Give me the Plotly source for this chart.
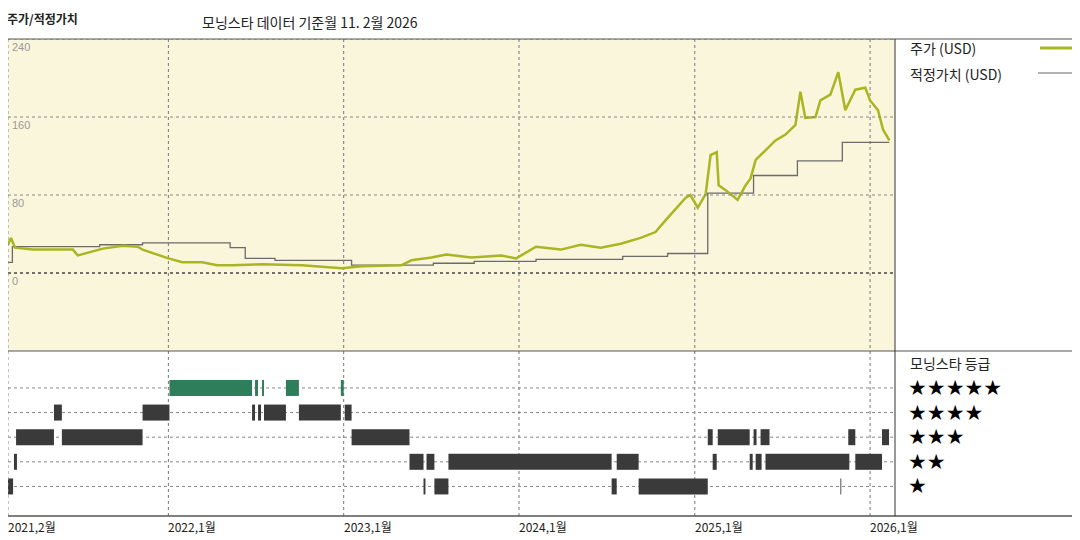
import plotly.graph_objects as go
from datetime import datetime, timedelta

def d(y):
    yr = int(y // 1)
    start = datetime(yr, 1, 1)
    return start + timedelta(days=(y - yr) * 365.25)

# Price (decimal year, USD)
price_t = [2021.085,2021.102,2021.125,2021.227,2021.34,2021.455,2021.483,2021.625,2021.74,2021.824,2021.852,
           2022.0,2022.08,2022.193,2022.278,2022.364,2022.534,2022.761,2022.989,2023.102,2023.33,2023.386,
           2023.5,2023.585,2023.727,2023.898,2023.983,2024.097,2024.239,2024.352,2024.466,2024.58,2024.693,
           2024.778,2024.835,2024.892,2024.949,2024.977,2025.017,2025.062,2025.09,2025.125,2025.136,2025.176,
           2025.244,2025.29,2025.318,2025.347,2025.403,2025.46,2025.517,2025.574,2025.602,2025.63,2025.688,
           2025.716,2025.773,2025.818,2025.858,2025.915,2025.972,2026.0,2026.045,2026.074,2026.11]
price_v = [29,36,26,24,24,24,18,25,28,27,24,
           15,11,11,8,8,9,8,5,7,8,13,
           16,19,16,18,15,27,24,29,26,30,36,
           42,54,65,77,80,67,81,121,124,90,85,
           75,90,97,116,126,136,142,152,186,159,160,
           177,183,206,167,188,190,177,167,147,136]

# Fair value steps (decimal year, USD)
fair_t = [2021.085,2021.11,2021.608,2021.852,2022.352,2022.438,2022.608,2023.045,2023.511,2023.744,
          2024.097,2024.591,2024.847,2025.074,2025.335,2025.585,2025.841,2026.11]
fair_v = [11,27,29,31,26,15,13,8,10,12,14,17,20,82,100,115,134,134]

# Star rating periods (start, end) in decimal years
rating5 = [(2022.006,2022.477),(2022.494,2022.511),(2022.534,2022.545),(2022.670,2022.744),(2022.983,2023.0)]
rating4 = [(2021.347,2021.392),(2021.852,2022.006),(2022.477,2022.494),(2022.511,2022.528),(2022.545,2022.670),
           (2022.744,2022.983),(2023.006,2023.045)]
rating3 = [(2021.131,2021.347),(2021.392,2021.852),(2023.045,2023.375),(2025.074,2025.102),(2025.131,2025.313),
           (2025.335,2025.352),(2025.375,2025.426),(2025.875,2025.915),(2026.068,2026.108)]
rating2 = [(2021.119,2021.136),(2023.375,2023.455),(2023.472,2023.517),(2023.597,2024.528),(2024.557,2024.682),
           (2025.102,2025.125),(2025.313,2025.330),(2025.347,2025.381),(2025.403,2025.881),(2025.915,2026.068)]
rating1 = [(2021.074,2021.114),(2023.455,2023.466),(2023.517,2023.597),(2024.528,2024.557),(2024.682,2025.074),
           (2025.830,2025.835)]

ticks = [(2021.085,"2021,2월"),(2022.0,"2022,1월"),(2023.0,"2023,1월"),(2024.0,"2024,1월"),(2025.0,"2025,1월"),(2026.0,"2026,1월")]
yticks = [240,160,80,0]

fig = go.Figure()
fig.add_trace(go.Scatter(x=[d(t) for t in fair_t], y=fair_v, mode="lines", line=dict(color="#6b6b6b", width=1.3, shape="hv"), yaxis="y", hoverinfo="skip"))
fig.add_trace(go.Scatter(x=[d(t) for t in price_t], y=price_v, mode="lines", line=dict(color="#a9b521", width=2.5), yaxis="y"))

for lvl, segs, col in [(5,rating5,"#2e7d5b"),(4,rating4,"#3a3a3a"),(3,rating3,"#3a3a3a"),(2,rating2,"#3a3a3a"),(1,rating1,"#3a3a3a")]:
    xs, ys = [], []
    for a, b in segs:
        xs += [d(a), d(b), None]; ys += [lvl, lvl, None]
    fig.add_trace(go.Scatter(x=xs, y=ys, mode="lines", line=dict(color=col, width=16), yaxis="y2", hoverinfo="skip"))

# geometry: page has 8px body margin, so work in page px minus offset
O = 8
W, H = 1080 - O, 540 - O
PL, PR, PT, PB = 5, 895, 39, 516   # plot box in page px
L = max(0, PL - O); R = W - (PR - O); T = PT - O; B = H - (PB - O)
pw = W - L - R
ph = H - T - B
split = 165 / ph
def px(x): return (x - O - L) / pw
def py(y): return (H - B - (y - O)) / ph
xr = [d(2021.085), d(2026.142)]

shapes = [dict(type="rect", xref="paper", yref="paper", x0=0, x1=1, y0=split, y1=1, fillcolor="#faf6dc", line=dict(width=0), layer="below")]
for t, _ in ticks[1:]:
    shapes.append(dict(type="line", xref="x", yref="paper", x0=d(t), x1=d(t), y0=0, y1=1, line=dict(color="#777", width=1, dash="dot"), layer="below"))
for v in [240,160,80]:
    shapes.append(dict(type="line", xref="paper", yref="y", x0=0, x1=1, y0=v, y1=v, line=dict(color="#888", width=1, dash="dot")))
shapes.append(dict(type="line", xref="paper", yref="y", x0=0, x1=1, y0=0, y1=0, line=dict(color="#444", width=1.5, dash="dot")))
for v in [1,2,3,4,5]:
    shapes.append(dict(type="line", xref="paper", yref="y2", x0=0, x1=1, y0=v, y1=v, line=dict(color="#888", width=1, dash="dot"), layer="below"))
shapes.append(dict(type="line", xref="paper", yref="paper", x0=0, x1=0, y0=0, y1=1, line=dict(color="#888", width=1, dash="dot")))
xend = px(1080)
shapes += [
    dict(type="line", xref="paper", yref="paper", x0=0, x1=xend, y0=1, y1=1, line=dict(color="#555", width=1)),
    dict(type="line", xref="paper", yref="paper", x0=0, x1=xend, y0=split, y1=split, line=dict(color="#555", width=1)),
    dict(type="line", xref="paper", yref="paper", x0=0, x1=xend, y0=0, y1=0, line=dict(color="#555", width=1.5)),
    dict(type="line", xref="paper", yref="paper", x0=1, x1=1, y0=0, y1=1, line=dict(color="#333", width=1)),
    dict(type="line", xref="paper", yref="paper", x0=px(1040), x1=px(1072), y0=py(48), y1=py(48), line=dict(color="#a9b521", width=3)),
    dict(type="line", xref="paper", yref="paper", x0=px(1038), x1=px(1072), y0=py(73), y1=py(73), line=dict(color="#666", width=1)),
]

ann = []
F = "Noto Sans CJK KR"
for v in yticks:
    ann.append(dict(x=0.002, y=v, xref="paper", yref="y", text=str(v), showarrow=False, xanchor="left", yanchor="top", font=dict(size=11, color="#999", family="Arial")))
for t, lab in ticks:
    ann.append(dict(x=d(t), y=py(516), xref="x", yref="paper", text=lab, showarrow=False, xanchor="left", yanchor="top", xshift=-2, font=dict(size=12, color="#222", family=F)))
ann += [
    dict(x=px(5), y=py(8), xref="paper", yref="paper", text="<b>주가/적정가치</b>", showarrow=False, xanchor="left", yanchor="top", font=dict(size=12, color="#222", family=F)),
    dict(x=px(200), y=py(10), xref="paper", yref="paper", text="모닝스타 데이터 기준월 11. 2월 2026", showarrow=False, xanchor="left", yanchor="top", font=dict(size=14, color="#222", family=F)),
    dict(x=px(908), y=py(48), xref="paper", yref="paper", text="주가 (USD)", showarrow=False, xanchor="left", yanchor="middle", font=dict(size=14, color="#222", family=F)),
    dict(x=px(908), y=py(74), xref="paper", yref="paper", text="적정가치 (USD)", showarrow=False, xanchor="left", yanchor="middle", font=dict(size=14, color="#222", family=F)),
    dict(x=px(908), y=py(363), xref="paper", yref="paper", text="모닝스타 등급", showarrow=False, xanchor="left", yanchor="middle", font=dict(size=14, color="#222", family=F)),
]
for lvl in [5,4,3,2,1]:
    ann.append(dict(x=px(906), y=lvl, xref="paper", yref="y2", text="★"*lvl, showarrow=False, xanchor="left", yanchor="middle", font=dict(size=21, color="#000", family="DejaVu Sans")))

fig.update_layout(
    width=W, height=H, margin=dict(l=L, r=R, t=T, b=B),
    paper_bgcolor="white", plot_bgcolor="white", showlegend=False,
    xaxis=dict(type="date", range=xr, showgrid=False, showticklabels=False, zeroline=False, anchor="y2", ticks=""),
    yaxis=dict(domain=[split, 1], range=[-80, 240], showgrid=False, showticklabels=False, zeroline=False, fixedrange=True),
    yaxis2=dict(domain=[0, split], range=[-0.2, 6.5], showgrid=False, showticklabels=False, zeroline=False),
    shapes=shapes, annotations=ann,
)
fig.write_html("out.html")
